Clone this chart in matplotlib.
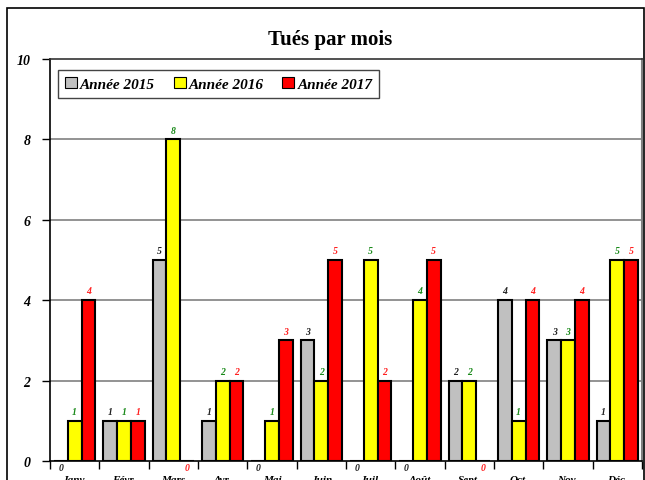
import numpy as np
import matplotlib
matplotlib.use("Agg")
import matplotlib.pyplot as plt
from matplotlib.patches import Rectangle

plt.rcParams['font.family'] = ['Liberation Serif', 'DejaVu Serif']

# Data
months = ["Janv.", "Févr.", "Mars", "Avr.", "Mai", "Juin",
          "Juil.", "Août", "Sept.", "Oct.", "Nov.", "Déc."]
y2015 = [0, 1, 5, 1, 0, 3, 0, 0, 2, 4, 3, 1]
y2016 = [1, 1, 8, 2, 1, 2, 5, 4, 2, 1, 3, 5]
y2017 = [4, 1, 0, 2, 3, 5, 2, 5, 0, 4, 4, 5]
series_names = ["Année 2015", "Année 2016", "Année 2017"]

series = [y2015, y2016, y2017]
bar_colors = ["#c0c0c0", "#ffff00", "#ff0000"]
label_colors = ["#222222", "#1a8a1a", "#ff2020"]

fig = plt.figure(figsize=(6.45, 4.81), dpi=100)
ax = fig.add_axes([50/645, 1 - 462/481, (642 - 50)/645, (462 - 60)/481])

# outer chart border
fig.patches.append(Rectangle((7/645, -0.05), (644 - 7)/645, 1.05 - 9/481,
                             transform=fig.transFigure, fill=False,
                             edgecolor="black", linewidth=1.2))

x = np.arange(len(months))
w = 0.28
for i, (vals, c, lc, name) in enumerate(zip(series, bar_colors, label_colors, series_names)):
    pos = x + (i - 1) * w
    ax.bar(pos, vals, width=w, color=c, edgecolor="black", linewidth=1.5,
           label=name, zorder=3)
    for p, v in zip(pos, vals):
        if v > 0:
            ax.text(p, v + 0.12, str(v), ha="center", va="bottom", fontsize=7,
                    fontweight="bold", fontstyle="italic", color=lc, zorder=4)
        else:
            ax.text(p, -0.05, str(v), ha="center", va="top", fontsize=7,
                    fontweight="bold", fontstyle="italic", color=lc,
                    clip_on=False, zorder=4)

ax.set_xlim(-0.5, len(months) - 0.5)
ax.set_ylim(0, 10)
ax.set_yticks([0, 2, 4, 6, 8, 10])
ax.set_yticklabels(["0", "2", "4", "6", "8", "10"], fontsize=10,
                   fontweight="bold", fontstyle="italic")
ax.tick_params(axis="y", direction="out", length=6, width=1, pad=8)

# ticks between categories, labels centred under groups
ax.set_xticks(np.arange(len(months) + 1) - 0.5)
ax.set_xticklabels([])
ax.set_xticks(x, minor=True)
ax.set_xticklabels(months, minor=True, fontsize=8, fontweight="bold",
                   fontstyle="italic")
ax.tick_params(axis="x", which="major", direction="out", length=6, width=1)
ax.tick_params(axis="x", which="minor", length=0, pad=10)

for yv in [2, 4, 6, 8]:
    ax.axhline(yv, color="#808080", linewidth=1.2, zorder=1)

ax.spines["left"].set_linewidth(1.2)
ax.spines["bottom"].set_linewidth(1.2)
ax.spines["top"].set_linewidth(1.2)
ax.spines["top"].set_color("#333333")
ax.spines["right"].set_color("#808080")
ax.spines["right"].set_linewidth(1.5)

fig.text(330/645, 1 - 40/481, "Tués par mois", ha="center", va="center",
         fontsize=15, fontweight="bold")

leg = ax.legend(loc="upper left", bbox_to_anchor=(0.5/592, 1 - 3/402), ncol=3,
                frameon=True, fancybox=False, framealpha=1,
                edgecolor="#444444", handlelength=0.8, handleheight=0.8,
                handletextpad=0.2, columnspacing=1.2, borderpad=0.45,
                prop={"weight": "bold", "style": "italic", "size": 11})
leg.get_frame().set_linewidth(1.0)
for h in leg.legend_handles:
    h.set_linewidth(0.8)

plt.savefig("out.png", dpi=100)
